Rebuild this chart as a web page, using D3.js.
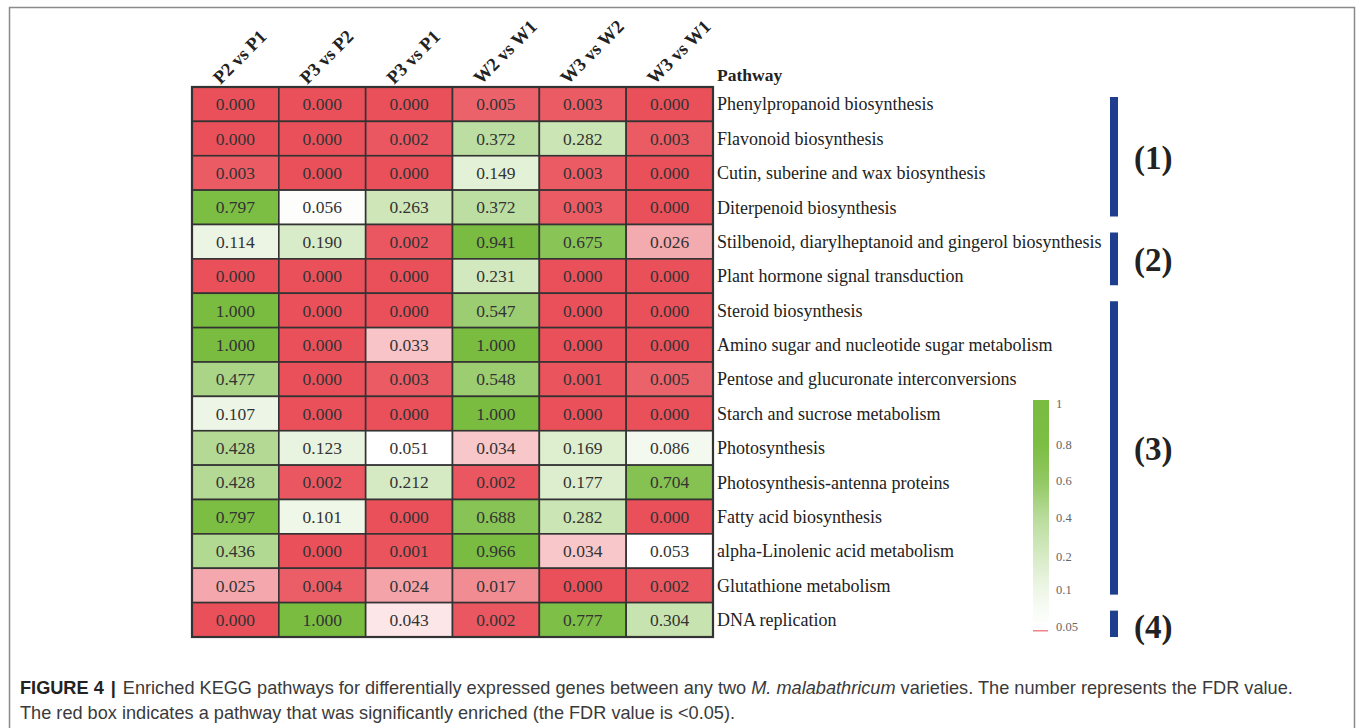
<!DOCTYPE html>
<html>
<head>
<meta charset="utf-8">
<script src="https://cdn.jsdelivr.net/npm/d3@7"></script>
<style>
  html, body { margin: 0; padding: 0; background: #fff; }
  svg { display: block; }
</style>
</head>
<body>
<svg id="chart" width="1357" height="728"></svg>
<script>
// Comparisons (columns) and pathways (rows)
const comparisons = ["P2 vs P1", "P3 vs P2", "P3 vs P1", "W2 vs W1", "W3 vs W2", "W3 vs W1"];
const pathways = [
  "Phenylpropanoid biosynthesis",
  "Flavonoid biosynthesis",
  "Cutin, suberine and wax biosynthesis",
  "Diterpenoid biosynthesis",
  "Stilbenoid, diarylheptanoid and gingerol biosynthesis",
  "Plant hormone signal transduction",
  "Steroid biosynthesis",
  "Amino sugar and nucleotide sugar metabolism",
  "Pentose and glucuronate interconversions",
  "Starch and sucrose metabolism",
  "Photosynthesis",
  "Photosynthesis-antenna proteins",
  "Fatty acid biosynthesis",
  "alpha-Linolenic acid metabolism",
  "Glutathione metabolism",
  "DNA replication"
];

// FDR values, one array per comparison (same order as pathways)
const fdrP2vsP1 = [0.000, 0.000, 0.003, 0.797, 0.114, 0.000, 1.000, 1.000, 0.477, 0.107, 0.428, 0.428, 0.797, 0.436, 0.025, 0.000];
const fdrP3vsP2 = [0.000, 0.000, 0.000, 0.056, 0.190, 0.000, 0.000, 0.000, 0.000, 0.000, 0.123, 0.002, 0.101, 0.000, 0.004, 1.000];
const fdrP3vsP1 = [0.000, 0.002, 0.000, 0.263, 0.002, 0.000, 0.000, 0.033, 0.003, 0.000, 0.051, 0.212, 0.000, 0.001, 0.024, 0.043];
const fdrW2vsW1 = [0.005, 0.372, 0.149, 0.372, 0.941, 0.231, 0.547, 1.000, 0.548, 1.000, 0.034, 0.002, 0.688, 0.966, 0.017, 0.002];
const fdrW3vsW2 = [0.003, 0.282, 0.003, 0.003, 0.675, 0.000, 0.000, 0.000, 0.001, 0.000, 0.169, 0.177, 0.282, 0.034, 0.000, 0.777];
const fdrW3vsW1 = [0.000, 0.003, 0.000, 0.000, 0.026, 0.000, 0.000, 0.000, 0.005, 0.000, 0.086, 0.704, 0.000, 0.053, 0.002, 0.304];
const fdrColumns = [fdrP2vsP1, fdrP3vsP2, fdrP3vsP1, fdrW2vsW1, fdrW3vsW2, fdrW3vsW1];

// Pathway groups (first and last row index of each bracket)
const groupLabels = ["(1)", "(2)", "(3)", "(4)"];
const groupStart = [0, 4, 6, 15];
const groupEnd = [3, 5, 14, 15];

// Colour legend ticks
const legendTicks = [0.05, 0.1, 0.2, 0.4, 0.6, 0.8, 1];
const legendTickLabels = ["0.05", "0.1", "0.2", "0.4", "0.6", "0.8", "1"];

const svg = d3.select("#chart");
const serif = "'Liberation Serif', 'Times New Roman', serif";
const sans = "'Liberation Sans', Arial, Helvetica, sans-serif";

// Outer figure frame
svg.append("rect")
  .attr("x", 9.5).attr("y", 7.5).attr("width", 1345).attr("height", 760)
  .attr("fill", "none").attr("stroke", "#8a8a8a").attr("stroke-width", 1.5);

// Grid scales
const x = d3.scaleBand().domain(comparisons).range([192, 713]).padding(0);
const y = d3.scaleBand().domain(pathways).range([87, 637]).padding(0);

// Colours: red for significant FDR (< 0.05), white->green above
const RED = "#E9505A", GREEN = "#79BC40";
const redT = d3.scaleLinear().domain([0, 0.05]).range([1, 0]).clamp(true);
const greenT = d3.scaleLinear()
  .domain([0.05, 0.1, 0.2, 0.4, 0.6, 0.8, 1])
  .range([0, 0.12, 0.3, 0.52, 0.82, 0.98, 1]).clamp(true);
const toRed = d3.interpolateRgb("#ffffff", RED);
const toGreen = d3.interpolateRgb("#ffffff", GREEN);
function cellColor(v) {
  return v < 0.05 ? toRed(redT(v)) : toGreen(greenT(v));
}

// Cells
const cells = [];
pathways.forEach((p, i) => {
  comparisons.forEach((c, j) => cells.push({ p, c, v: fdrColumns[j][i] }));
});

const g = svg.append("g");
g.selectAll("rect.cell").data(cells).join("rect")
  .attr("class", "cell")
  .attr("x", d => x(d.c)).attr("y", d => y(d.p))
  .attr("width", x.bandwidth()).attr("height", y.bandwidth())
  .attr("fill", d => cellColor(d.v))
  .attr("stroke", "#333").attr("stroke-width", 1.6);

g.selectAll("text.val").data(cells).join("text")
  .attr("class", "val")
  .attr("x", d => x(d.c) + x.bandwidth() / 2)
  .attr("y", d => y(d.p) + y.bandwidth() / 2)
  .attr("dy", "0.35em")
  .attr("text-anchor", "middle")
  .attr("font-family", serif).attr("font-size", 17.5)
  .attr("fill", "#333")
  .text(d => d3.format(".3f")(d.v));

// Outer border of the grid
g.append("rect")
  .attr("x", 192).attr("y", 87).attr("width", 713 - 192).attr("height", 637 - 87)
  .attr("fill", "none").attr("stroke", "#333").attr("stroke-width", 2.2);

// Column headers (rotated)
g.selectAll("text.col").data(comparisons).join("text")
  .attr("class", "col")
  .attr("transform", d => `translate(${x(d) + x.bandwidth() / 2 - 15},85) rotate(-45)`)
  .attr("font-family", serif).attr("font-size", 18.5).attr("font-weight", "bold")
  .attr("fill", "#222")
  .text(d => d);

g.append("text")
  .attr("x", 717).attr("y", 81)
  .attr("font-family", serif).attr("font-size", 17.5).attr("font-weight", "bold")
  .attr("fill", "#222")
  .text("Pathway");

// Row labels
g.selectAll("text.row").data(pathways).join("text")
  .attr("class", "row")
  .attr("x", 717)
  .attr("y", d => y(d) + y.bandwidth() / 2)
  .attr("dy", "0.35em")
  .attr("font-family", serif).attr("font-size", 18)
  .attr("fill", "#222")
  .text(d => d);

// Group brackets
const BLUE = "#1F3F8E";
const groups = groupLabels.map((l, k) => ({ l, s: groupStart[k], e: groupEnd[k] }));
const bTop = d => y(pathways[d.s]) + (d.s === 0 ? 10 : 8);
const bBot = d => y(pathways[d.e]) + y.bandwidth() - (d.e === pathways.length - 1 ? 0 : 8);
g.selectAll("rect.bracket").data(groups).join("rect")
  .attr("class", "bracket")
  .attr("x", 1110).attr("width", 8)
  .attr("y", bTop)
  .attr("height", d => bBot(d) - bTop(d))
  .attr("fill", BLUE);

g.selectAll("text.group").data(groups).join("text")
  .attr("class", "group")
  .attr("x", 1134)
  .attr("y", d => (bTop(d) + bBot(d)) / 2 + (d.s === d.e ? 3 : 1))
  .attr("dy", "0.35em")
  .attr("font-family", serif).attr("font-size", 33).attr("font-weight", "bold")
  .attr("fill", "#222")
  .text(d => d.l);

// Colour legend
const ly = d3.scaleLinear()
  .domain(legendTicks)
  .range([627, 590, 557, 518, 481, 445, 404]);
const legTop = 400, legBot = 622;
const defs = svg.append("defs");
const grad = defs.append("linearGradient").attr("id", "fdrGrad")
  .attr("x1", 0).attr("y1", 1).attr("x2", 0).attr("y2", 0);
d3.range(0, 1.0001, 0.05).forEach(f => {
  const yy = legBot - f * (legBot - legTop);
  const v = ly.invert(Math.min(Math.max(yy, 404), 627));
  grad.append("stop").attr("offset", f).attr("stop-color", toGreen(greenT(v)));
});
svg.append("rect")
  .attr("x", 1033).attr("y", legTop).attr("width", 16).attr("height", legBot - legTop)
  .attr("fill", "url(#fdrGrad)");
svg.append("rect")
  .attr("x", 1033).attr("y", 630).attr("width", 15).attr("height", 1.5)
  .attr("fill", RED).attr("opacity", 0.7);

svg.selectAll("text.leg").data(legendTicks).join("text")
  .attr("class", "leg")
  .attr("x", 1056)
  .attr("y", d => ly(d))
  .attr("dy", "0.35em")
  .attr("font-family", serif).attr("font-size", 12.5)
  .attr("fill", "#666")
  .text((d, i) => legendTickLabels[i]);

// Caption
const cap = svg.append("g").attr("font-family", sans).attr("fill", "#3a3a3a");
const l1 = cap.append("text").attr("x", 20).attr("y", 694).attr("font-size", 16)
  .attr("xml:space", "preserve");
l1.append("tspan").attr("font-weight", "bold").attr("fill", "#222").text("FIGURE 4");
l1.append("tspan").attr("font-weight", "bold").attr("fill", "#222").attr("dx", 7).text("|");
l1.append("tspan").attr("dx", 7).text("Enriched KEGG pathways for differentially expressed genes between any two ");
l1.append("tspan").attr("font-style", "italic").text("M. malabathricum");
l1.append("tspan").text(" varieties. The number represents the FDR value.");
const l2 = cap.append("text").attr("x", 20).attr("y", 719).attr("font-size", 16)
  .text("The red box indicates a pathway that was significantly enriched (the FDR value is <0.05).");
// Fit the first caption line to its column width
const w1 = l1.node().getComputedTextLength() + 14;
const k = 1276 / w1;
l1.attr("font-size", 16 * k);
l2.attr("font-size", 16 * k);
</script>
</body>
</html>
